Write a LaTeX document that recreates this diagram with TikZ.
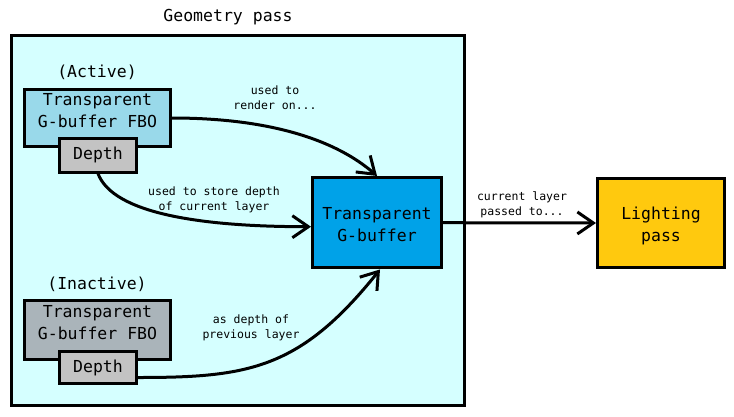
\documentclass[tikz,border=0pt]{standalone}
\usepackage{fontspec}
\setmonofont{DejaVu Sans Mono}
\usetikzlibrary{positioning}
\usetikzlibrary{arrows.meta}
\definecolor{passbg}{RGB}{213,255,255}
\definecolor{activefbo}{RGB}{153,217,234}
\definecolor{inactivefbo}{RGB}{170,180,186}
\definecolor{depthgray}{RGB}{195,195,195}
\definecolor{gbufblue}{RGB}{0,162,232}
\definecolor{lightgold}{RGB}{255,201,14}
\begin{document}
\begin{tikzpicture}[x=1pt, y=-1pt,
    every node/.style={font=\ttfamily\fontsize{16.5}{22}\selectfont, align=center},
    box/.style={draw, line width=3pt},
    note/.style={font=\ttfamily\fontsize{11.5}{15}\selectfont},
    flow/.style={line width=3pt, -{Straight Barb[length=16pt, width=22pt]}}]
    \useasboundingbox (0,0) rectangle (734,416);
    % geometry pass
    \node[box, fill=passbg, minimum width=453, minimum height=370](geom) at (238,220.5) {};
    \node(geomtitle) at (228,17) {Geometry pass};
    % active buffer
    \node[box, fill=activefbo, minimum width=146, minimum height=57, text depth=16pt](fbo1) at (97.5,118) {Transparent\\G-buffer FBO};
    \node[box, fill=depthgray, minimum width=77, minimum height=33.5](depth1) at (98,155.3) {Depth};
    \node(active) at (97,72) {(Active)};
    % inactive buffer
    \node[box, fill=inactivefbo, minimum width=146, minimum height=59, text depth=16pt](fbo2) at (97.5,330) {Transparent\\G-buffer FBO};
    \node[box, fill=depthgray, minimum width=77, minimum height=32](depth2) at (98,367.5) {Depth};
    \node(inactive) at (97,284) {(Inactive)};
    % targets
    \node[box, fill=gbufblue, minimum width=129, minimum height=90.5, text height=39pt, text depth=2pt](gbuf) at (377,222.7) {Transparent\\G-buffer};
    \node[box, fill=lightgold, minimum width=127, minimum height=89, text height=39pt, text depth=2pt](light) at (661,223) {Lighting\\pass};
    % arrows
    \draw[flow] (fbo1.east) .. controls +(100,0) and +(-40,-35) .. (gbuf.north);
    \node[note](rendernote) at (275,97.5) {used to\\render on...};
    \draw[flow] (depth1.south) .. controls +(15,40) and +(-110,0) .. ([yshift=-4pt]gbuf.west);
    \node[note](storenote) at (214,199.5) {used to store depth\\of current layer};
    \draw[flow] ([yshift=-10pt]depth2.east) .. controls +(110,0) and +(-80,100) .. ([xshift=3pt]gbuf.south);
    \node[note](prevnote) at (251,327.5) {as depth of\\previous layer};
    \draw[flow] (gbuf.east) -- (light.west);
    \node[note](passnote) at (522,204.5) {current layer\\passed to...};
\end{tikzpicture}
\end{document}
